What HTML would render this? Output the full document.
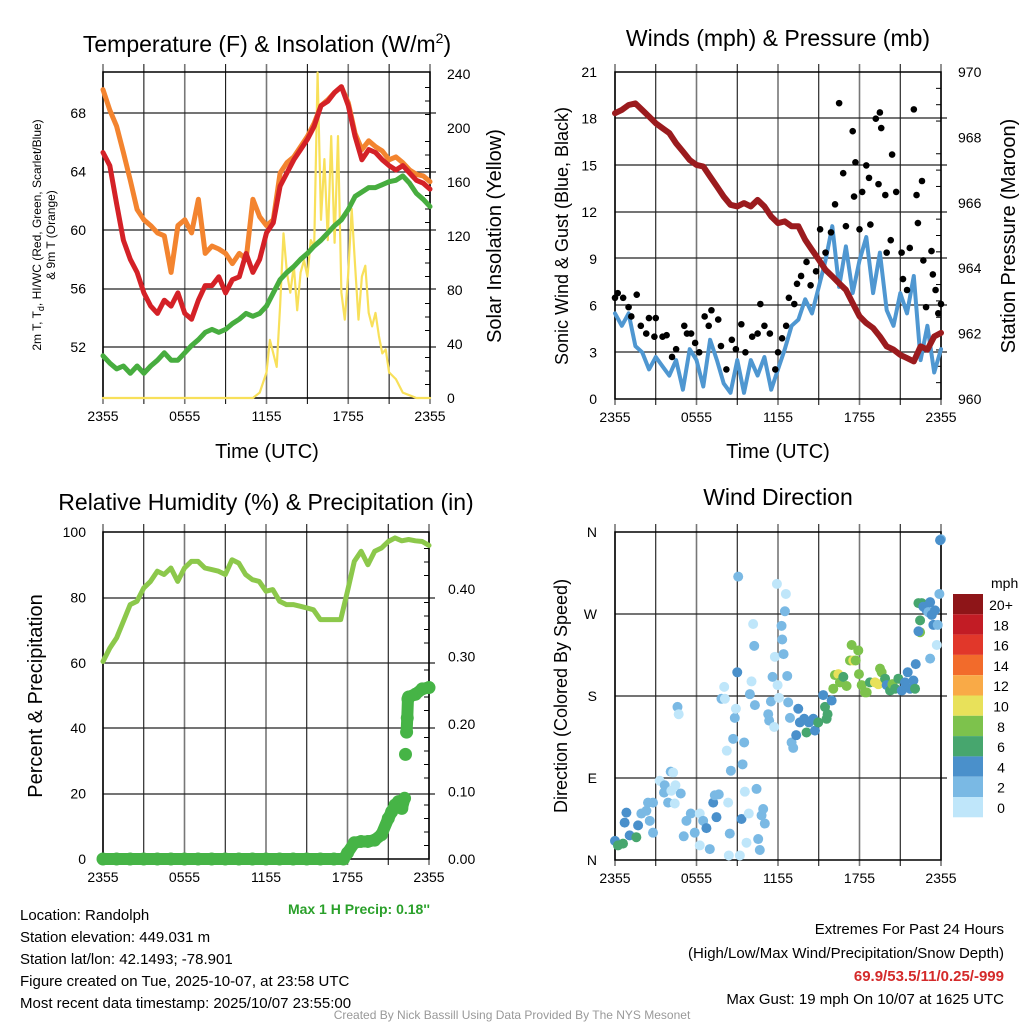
<!DOCTYPE html>
<html><head><meta charset="utf-8">
<style>
html,body{margin:0;padding:0;background:#fff;}
svg{display:block;font-family:"Liberation Sans",sans-serif;}
</style></head>
<body>
<svg id="chart" width="1024" height="1024" viewBox="0 0 1024 1024" xmlns="http://www.w3.org/2000/svg">
<rect width="1024" height="1024" fill="#fff"/>
<g id="g1"></g>
<g id="g2"></g>
<g id="g3"></g>
<g id="g4"></g>

<text x="267" y="52" font-size="23" text-anchor="middle">Temperature (F) &amp; Insolation (W/m<tspan font-size="14" dy="-9">2</tspan><tspan dy="9">)</tspan></text>
<text x="778" y="46" font-size="23" text-anchor="middle">Winds (mph) &amp; Pressure (mb)</text>
<text x="266" y="510" font-size="23" text-anchor="middle">Relative Humidity (%) &amp; Precipitation (in)</text>
<text x="778" y="505" font-size="23" text-anchor="middle">Wind Direction</text>

<text x="267" y="458" font-size="20" text-anchor="middle">Time (UTC)</text>
<text x="778" y="458" font-size="20" text-anchor="middle">Time (UTC)</text>

<text transform="translate(41,235) rotate(-90)" font-size="12" text-anchor="middle">2m T, T<tspan font-size="9" dy="3">d</tspan><tspan dy="-3">, HI/WC (Red, Green, Scarlet/Blue)</tspan></text>
<text transform="translate(55,235) rotate(-90)" font-size="12" text-anchor="middle">&amp; 9m T (Orange)</text>
<text transform="translate(501,236) rotate(-90)" font-size="20" text-anchor="middle">Solar Insolation (Yellow)</text>
<text transform="translate(568,236) rotate(-90)" font-size="18" text-anchor="middle">Sonic Wind &amp; Gust (Blue, Black)</text>
<text transform="translate(1015,236) rotate(-90)" font-size="20" text-anchor="middle">Station Pressure (Maroon)</text>
<text transform="translate(42,696) rotate(-90)" font-size="20" text-anchor="middle">Percent &amp; Precipitation</text>
<text transform="translate(567,696) rotate(-90)" font-size="18" text-anchor="middle">Direction (Colored By Speed)</text>

<text x="430" y="914" font-size="14" font-weight="bold" fill="#2aa02a" text-anchor="end">Max 1 H Precip: 0.18''</text>

<g font-size="15">
<text x="20" y="920">Location: Randolph</text>
<text x="20" y="942">Station elevation: 449.031 m</text>
<text x="20" y="964">Station lat/lon: 42.1493; -78.901</text>
<text x="20" y="986">Figure created on Tue, 2025-10-07, at 23:58 UTC</text>
<text x="20" y="1008">Most recent data timestamp: 2025/10/07 23:55:00</text>
</g>
<g font-size="15" text-anchor="end">
<text x="1004" y="934">Extremes For Past 24 Hours</text>
<text x="1004" y="958">(High/Low/Max Wind/Precipitation/Snow Depth)</text>
<text x="1004" y="981" font-weight="bold" fill="#d42a2a">69.9/53.5/11/0.25/-999</text>
<text x="1004" y="1004">Max Gust: 19 mph On 10/07 at 1625 UTC</text>
</g>
<text x="512" y="1019" font-size="12" fill="#999" text-anchor="middle">Created By Nick Bassill Using Data Provided By The NYS Mesonet</text>
</svg>
<script>
// ---------- data ----------
const xTickLabels = ["2355","0555","1155","1755","2355"];
const halfHours = [0,0.5,1,1.5,2,2.5,3,3.5,4,4.5,5,5.5,6,6.5,7,7.5,8,8.5,9,9.5,10,10.5,11,11.5,12,12.5,13,13.5,14,14.5,15,15.5,16,16.5,17,17.5,18,18.5,19,19.5,20,20.5,21,21.5,22,22.5,23,23.5,24];
const tempF = [65.3,64.4,61.8,59.3,58.0,57.1,55.7,54.8,54.3,55.2,54.8,55.7,54.3,53.9,55.2,56.2,56.2,56.8,55.7,56.6,56.8,58.4,57.1,58.0,59.8,60.5,63.0,63.9,64.8,65.5,66.2,67.1,68.5,68.8,69.4,69.8,68.5,66.4,64.8,65.5,65.3,64.8,64.4,64.1,64.4,63.9,63.4,63.2,62.8];
const temp9mF = [69.6,68.2,67.1,65.3,63.4,61.4,60.7,60.3,59.8,59.6,57.1,60.3,60.7,59.8,62.1,58.4,58.9,58.7,58.4,57.7,58.4,58.0,62.1,60.9,60.3,60.7,63.9,64.6,65.0,65.7,66.4,67.3,68.5,68.9,69.4,69.8,68.7,66.6,65.5,66.1,65.7,65.4,64.8,65.0,64.6,64.1,63.8,63.7,63.3];
const dewF = [51.4,50.9,50.5,50.7,50.2,50.7,50.2,50.7,51.1,51.6,51.1,51.1,51.6,52.1,52.5,53.0,53.2,53.0,53.2,53.6,53.9,54.3,54.1,54.3,54.8,55.7,56.6,57.1,57.5,58.0,58.4,58.9,59.3,59.8,60.3,60.7,61.4,62.3,62.6,62.9,62.9,63.1,63.3,63.4,63.7,63.2,62.5,62.1,61.6];
const solarHours = [0,11,11.5,12,12.25,12.5,12.75,13,13.25,13.5,13.75,14,14.25,14.5,14.75,15,15.25,15.5,15.75,16,16.25,16.5,16.75,17,17.25,17.5,17.75,18,18.25,18.5,18.75,19,19.25,19.5,19.75,20,20.25,20.5,20.75,21,21.5,22,22.5,23,24];
const solarWm2 = [0,0,4,19,43,33,23,68,122,93,78,98,65,93,102,90,117,112,241,132,177,117,194,115,194,78,58,93,140,98,58,90,98,63,53,63,46,33,36,19,14,4,2,0,0];
const windMph = [5.5,4.7,5.5,3.4,3.0,1.9,2.7,2.1,1.5,2.5,0.6,3.2,2.5,0.8,3.8,2.5,1.0,0.4,2.5,0.4,2.5,1.5,2.7,0.6,1.9,3.2,4.7,5.1,6.4,5.5,7.2,8.9,11.1,7.2,9.8,6.8,8.9,10.4,6.8,9.4,5.7,4.7,6.8,5.5,7.9,2.5,4.7,1.7,3.2];
const pressureMb = [968.74,968.84,968.99,969.04,968.84,968.64,968.43,968.28,968.13,967.82,967.57,967.31,967.16,967.11,966.80,966.50,966.19,965.94,965.89,965.99,965.89,966.09,965.89,965.58,965.38,965.43,965.28,965.28,964.87,964.56,964.26,963.95,963.75,963.54,963.34,962.93,962.53,962.32,962.17,961.91,961.61,961.51,961.35,961.25,961.15,961.61,961.51,961.91,962.02];
const gustHours = [0,0.2,0.6,1.0,1.2,1.6,1.9,2.3,2.5,2.9,3.0,3.5,3.8,4.2,4.5,5.1,5.3,5.6,5.9,6.2,6.6,6.9,7.1,7.6,7.8,8.2,8.6,8.9,9.3,9.6,10.1,10.5,10.7,11.0,11.4,11.8,12.0,12.3,12.6,12.8,13.2,13.4,13.7,14.1,14.4,14.8,15.1,15.5,15.9,16.2,16.5,16.8,17.0,17.5,17.6,17.7,18.0,18.2,18.5,18.7,18.8,19.2,19.4,19.5,19.6,19.9,20.0,20.3,20.4,20.7,21.1,21.2,21.5,21.7,22.0,22.2,22.3,22.6,22.7,22.9,23.3,23.4,23.6,23.8,24.0];
const gustMph = [6.5,6.8,6.5,5.9,5.3,6.7,4.7,4.2,5.2,4.0,5.2,4.0,4.1,2.7,3.2,4.7,4.2,4.2,3.6,3.0,5.3,4.7,5.7,5.1,3.4,1.9,3.8,3.2,4.8,3.0,4.0,4.2,6.1,4.7,4.2,1.9,3.0,3.9,4.7,6.5,6.1,7.4,7.9,8.8,7.3,8.2,10.9,9.4,10.7,12.5,19.0,14.5,11.1,17.2,13.0,15.2,10.9,13.3,15.0,14.2,11.2,18.0,13.8,18.4,17.4,13.1,9.4,10.2,15.7,13.3,9.4,7.7,7.0,9.7,18.6,13.1,11.3,14.0,8.9,5.9,9.5,8.0,7.0,5.5,6.1];
const rhPct = [60.4,64.5,67.6,72.7,77.8,78.8,82.9,84.9,88.0,87.0,89.0,84.9,89.0,91.0,91.0,89.0,88.5,88.0,87.0,91.5,90.5,87.0,85.4,84.9,81.9,82.4,78.8,77.8,77.8,77.3,76.8,76.2,73.2,73.2,73.2,73.2,81.9,91.0,94.1,90.0,94.1,95.1,97.1,98.2,97.3,97.7,97.3,97.1,95.9];
const precipHours = [0,1,2,3,4,5,6,7,8,9,10,11,12,13,14,15,16,17,17.7,18,18.5,19,19.5,20,20.5,21,21.25,21.5,21.75,22,22.2,22.27,22.35,22.4,22.45,22.5,23,23.5,24];
const precipIn = [0,0,0,0,0,0,0,0,0,0,0,0,0,0,0,0,0,0,0,0.009,0.024,0.026,0.026,0.028,0.036,0.060,0.070,0.080,0.085,0.075,0.090,0.155,0.188,0.209,0.237,0.240,0.244,0.252,0.254];
const dirHours = [0,0.22,0.59,0.84,0.71,1.08,1.57,1.70,1.94,2.31,2.56,2.80,2.43,2.80,3.29,3.66,3.61,3.91,4.15,4.45,4.10,4.28,4.40,4.84,4.60,4.69,5.06,5.26,5.58,5.87,6.24,6.24,6.49,6.73,6.98,7.23,7.35,7.64,7.47,7.84,8.04,8.09,8.23,8.33,8.45,8.53,8.38,8.70,8.82,8.90,9.0,9.07,9.19,9.31,9.39,9.51,9.56,9.68,9.85,9.93,10.05,10.17,10.25,10.30,10.42,10.54,10.66,10.79,10.91,11.03,11.28,11.35,11.48,11.60,11.72,11.77,11.92,11.97,12.07,12.26,12.31,12.41,12.51,12.58,12.68,12.75,12.88,13.0,13.12,13.34,13.49,13.61,13.93,14.1,14.28,14.60,14.72,14.96,15.33,15.46,15.58,15.65,15.95,16.07,16.19,16.44,16.56,16.81,17.05,17.30,17.42,17.54,17.72,17.91,17.96,18.16,18.40,18.53,18.77,19.14,19.39,19.51,19.63,19.88,20.0,20.25,20.42,20.62,20.86,21.11,21.35,21.55,21.72,21.97,22.09,22.14,22.34,22.46,22.46,22.58,22.70,22.95,23.07,23.20,23.32,23.44,23.56,23.69,23.76,23.88,23.20,24.0,23.93,22.34];
const dirDeg = [21,16,18,52,41,27,25,38,51,54,43,30,63,63,87,82,74,63,76,82,97,96,62,73,168,160,26,43,51,30,51,16,43,35,12,63,71,72,47,177,190,177,120,63,29,98,5,133,156,166,206,311,5,45,105,129,75,19,51,182,196,259,235,170,78,23,11,49,56,40,160,153,174,201,146,223,303,192,178,257,242,226,273,292,202,173,156,129,123,137,166,151,155,140,151,155,142,151,181,168,155,160,175,188,203,204,195,201,191,219,236,219,219,230,204,192,184,184,195,195,193,210,206,199,192,186,193,188,199,186,195,206,188,197,188,215,282,263,250,282,278,274,272,283,269,258,274,236,258,292,221,352,351,251];
const dirSpeed = [4.5,6,6,4.5,4.5,4.5,6,4.5,2,2,2,2,2,2,0.5,2,2,2,0.5,0.5,2,0.5,0.5,2,2,0.5,2,2,2,2,0.5,0.5,2,3.5,2,3.5,2,2,3.5,2,0.5,0.5,0.5,0.5,2,2,0.5,2,2,0.5,3.5,2,0.5,3.5,2,2,0.5,0.5,0.5,2,0.5,0.5,2,2,2,2,2,2,2,2,2,2,2,2,0.5,0.5,0.5,0.5,0.5,2,2,2,2,0.5,2,2,2,2,2,3.5,3.5,3.5,3.5,6,3.5,3.5,3.5,6,3.5,6,6,6,3.5,7.5,8,10,8,6,7.5,8,8,10,8,8,7.5,8,7.5,8,6,10,10,8,8,6,4.5,6,8,6,6,4.5,3.5,3.5,4.5,4.5,6,3.5,6,6,8,6,4.5,3.5,2,3.5,3.5,3.5,3.5,0.5,2,2,2,2,3.5,3.5];
const speedBinLabels = ["20+","18","16","14","12","10","8","6","4","2","0"];
const speedColors = ["#bfe6fa","#7ab9e4","#4a90cb","#47a66e","#7dc24c","#e8e15a","#f9aa47","#f26b2b","#e1372a","#c21c25","#8e1518"];

// ---------- helpers ----------
const NS = "http://www.w3.org/2000/svg";
function mk(parent, tag, attrs, txt){
  const e = document.createElementNS(NS, tag);
  for (const k in attrs) e.setAttribute(k, attrs[k]);
  if (txt !== undefined) e.textContent = txt;
  parent.appendChild(e);
  return e;
}
function lin(d0,d1,r0,r1){ return v => r0 + (v-d0)*(r1-r0)/(d1-d0); }

function frame(g, L, T, R, B, hLines){
  const xs = lin(0,24,L,R);
  for (let h=0; h<=24; h+=3){
    const x = xs(h);
    const ln = mk(g,'line',{x1:x,y1:T-8,x2:x,y2:B+6,stroke:(h%6===3?'#000':'#777'),'stroke-width':(h%6===3?1:1.6)});
    
    
  }
  hLines.forEach(y=>{
    const ln = mk(g,'line',{x1:L,y1:y,x2:R+6,y2:y,stroke:'#222','stroke-width':1.2});
    
    
  });
  const bx = mk(g,'rect',{x:L,y:T,width:R-L,height:B-T,fill:'none',stroke:'#000','stroke-width':1.5});
  
  
  xTickLabels.forEach((lab,i)=>{
    const t = mk(g,'text',{x:xs(i*6),y:B+23,'font-size':14,'text-anchor':'middle'},lab);
    
    
  });
  return xs;
}
function yLabel(g, x, y, lab, anchor){
  const t = mk(g,'text',{x:x,y:y+5,'font-size':14,'text-anchor':anchor},lab);
  
  
}
function minorTicks(g, x, ys){
  ys.forEach(y=>{ const m = mk(g,'line',{x1:x-5,y1:y,x2:x,y2:y,stroke:'#000','stroke-width':1});
      });
}
function path(g, xsArr, ysArr, xs, ys, color, w, name){
  let d = '';
  xsArr.forEach((h,i)=>{ d += (i?'L':'M') + xs(h).toFixed(1) + ',' + ys(ysArr[i]).toFixed(1); });
  const p = mk(g,'path',{d:d,fill:'none',stroke:color,'stroke-width':w,'stroke-linejoin':'round','stroke-linecap':'round'});
  
  
}

// ---------- panel 1 ----------
(function(){
  const g = document.getElementById('g1');
  const L=103,T=72,R=430,B=398;
  const yT = lin(52,68,347,113), yS = lin(0,240,398,74);
  const xs = frame(g,L,T,R,B,[113,172,230,289,347]);
  [52,56,60,64,68].forEach(v=>yLabel(g,86,yT(v),String(v),'end'));
  [0,40,80,120,160,200,240].forEach(v=>yLabel(g,447,yS(v),String(v),'start'));
  const mt=[]; for(let v=10;v<240;v+=10) if(v%40) mt.push(yS(v)); minorTicks(g,R,mt);
  path(g,solarHours,solarWm2,xs,yS,'#f8e05a',2.2,'solar-insolation-line');
  path(g,halfHours,temp9mF,xs,yT,'#f3842f',5,'temp-9m-line');
  path(g,halfHours,tempF,xs,yT,'#d42127',5,'temp-2m-line');
  path(g,halfHours,dewF,xs,yT,'#47ad3f',5,'dewpoint-line');
})();

// ---------- panel 2 ----------
(function(){
  const g = document.getElementById('g2');
  const L=615,T=72,R=941,B=399;
  const yW = lin(0,21,399,72), yP = lin(960,970,399,72);
  const xs = frame(g,L,T,R,B,[118,165,212,258,305,352]);
  [0,3,6,9,12,15,18,21].forEach(v=>yLabel(g,597,yW(v),String(v),'end'));
  [960,962,964,966,968,970].forEach(v=>yLabel(g,958,yP(v),String(v),'start'));
  const mt=[]; for(let v=960.5;v<970;v+=0.5) if(Math.abs(v-Math.round(v/2)*2)>0.01) mt.push(yP(v)); minorTicks(g,R,mt);
  path(g,halfHours,windMph,xs,yW,'#4f97d1',4,'sonic-wind-line');
  gustHours.forEach((h,i)=>{
    const c = mk(g,'circle',{cx:xs(h),cy:yW(gustMph[i]),r:3.3,fill:'#000'});
    
    
  });
  path(g,halfHours,pressureMb,xs,yP,'#9b1b1e',6,'pressure-line');
})();

// ---------- panel 3 ----------
(function(){
  const g = document.getElementById('g3');
  const L=103,T=532,R=429,B=859;
  const yR = lin(0,100,859,532), yPr = lin(0,0.4,859,589);
  const xs = frame(g,L,T,R,B,[598,663,728,794]);
  [0,20,40,60,80,100].forEach(v=>yLabel(g,86,yR(v),String(v),'end'));
  ["0.00","0.10","0.20","0.30","0.40"].forEach(v=>yLabel(g,448,yPr(parseFloat(v)),v,'start'));
  const mt=[]; for(let v=0.02;v<0.48;v+=0.02) if(Math.round(v*100)%10) mt.push(yPr(v)); minorTicks(g,R,mt);
  path(g,halfHours,rhPct,xs,yR,'#8cc84b',5,'relative-humidity-line');
  for(let i=1;i<precipHours.length;i++){
    if (Math.abs(precipIn[i]-precipIn[i-1])<0.03){
      const ln = mk(g,'line',{x1:xs(precipHours[i-1]),y1:yPr(precipIn[i-1]),x2:xs(precipHours[i]),y2:yPr(precipIn[i]),stroke:'#46b446','stroke-width':12,'stroke-linecap':'round'});
      
      
    }
  }
  precipHours.forEach((h,i)=>{
    const c = mk(g,'circle',{cx:xs(h),cy:yPr(precipIn[i]),r:6.5,fill:'#46b446'});
    
    
  });
})();

// ---------- panel 4 ----------
(function(){
  const g = document.getElementById('g4');
  const L=615,T=532,R=941,B=860;
  const yD = lin(0,360,860,532);
  const xs = frame(g,L,T,R,B,[614,696,778]);
  ["N","E","S","W","N"].forEach((lab,i)=>yLabel(g,597,yD(i*90),lab,'end'));
  dirHours.forEach((h,i)=>{
    const s = dirSpeed[i];
    const bin = Math.min(10, Math.floor((s+1)/2));
    const c = mk(g,'circle',{cx:xs(h),cy:yD(dirDeg[i]),r:5,fill:speedColors[bin]});
    
    
  });
  const lg = mk(g,'g',{});
  
  
  const t0 = mk(lg,'text',{x:991,y:588,'font-size':14},'mph');
  
  
  speedBinLabels.forEach((lab,i)=>{
    const y = 594 + i*20.3;
    const r = mk(lg,'rect',{x:953,y:y,width:30,height:20.3,fill:speedColors[10-i]});
    
    
    const t = mk(lg,'text',{x:1001,y:y+16,'font-size':14,'text-anchor':'middle'},lab);
    
    
  });
})();
</script>
</body></html>
